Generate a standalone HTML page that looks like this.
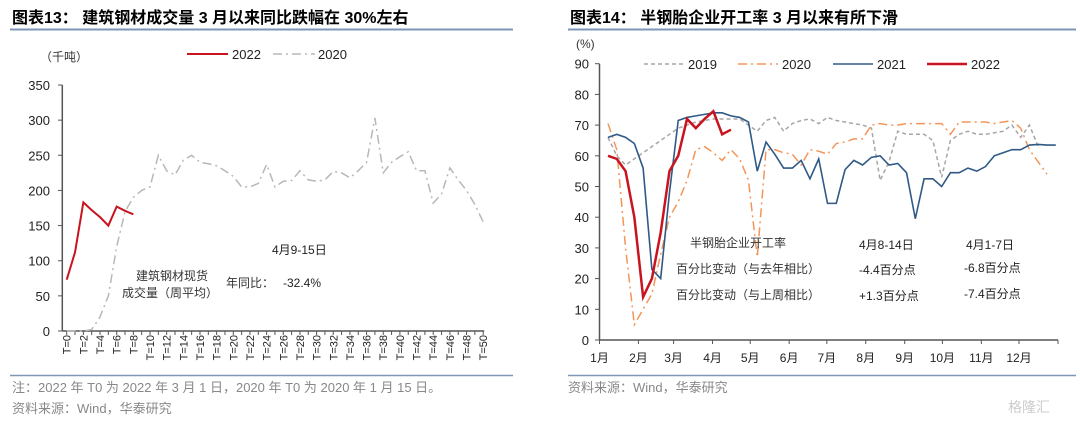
<!DOCTYPE html>
<html><head><meta charset="utf-8"><style>
html,body{margin:0;padding:0;background:#fff;}
body{width:1080px;height:421px;overflow:hidden;position:relative;font-family:"Liberation Sans","Noto Sans CJK SC",sans-serif;}
svg{position:absolute;left:0;top:0;}
</style></head><body>
<svg id="s" width="1080" height="421" viewBox="0 0 1080 421" font-family="Liberation Sans, Noto Sans CJK SC, sans-serif">
<g>
<text x="12" y="23" font-size="16" font-weight="bold" fill="#000">图表13：  建筑钢材成交量 3 月以来同比跌幅在 30%左右</text>
<line x1="10" y1="29.5" x2="513" y2="29.5" stroke="#7f97b7" stroke-width="2"/>
</g>
<g>
<text x="570" y="23" font-size="16" font-weight="bold" fill="#000">图表14：  半钢胎企业开工率 3 月以来有所下滑</text>
<line x1="568" y1="29.5" x2="1076" y2="29.5" stroke="#7f97b7" stroke-width="2"/>
</g>
<line x1="10" y1="375.5" x2="513" y2="375.5" stroke="#7f97b7" stroke-width="1.5"/>
<line x1="568" y1="375.5" x2="1076" y2="375.5" stroke="#7f97b7" stroke-width="1.5"/>
<text x="12" y="392" font-size="13" fill="#888">注：2022 年 T0 为 2022 年 3 月 1 日，2020 年 T0 为 2020 年 1 月 15 日。</text>
<text x="12" y="413" font-size="13" fill="#888">资料来源：Wind，华泰研究</text>
<text x="568" y="392" font-size="13" fill="#888">资料来源：Wind，华泰研究</text>
<text x="1008" y="412" font-size="14" fill="#ccc">格隆汇</text>
<g id="L"></g>
<g id="R"></g>
</svg>
<script>
// ---- left chart data ----
const lTicks = [0,50,100,150,200,250,300,350];
const lSeries2022 = [73,112,183,172,162,150,177,171,166];
const lSeries2020 = [0,0,0,2,20,50,120,170,190,200,205,250,228,222,243,250,240,238,235,228,220,205,205,210,237,205,213,214,228,215,213,215,227,225,218,228,240,303,225,240,248,255,228,228,182,195,232,215,200,180,155];
// ---- right chart data ----
const rTicks = [0,10,20,30,40,50,60,70,80,90];
const rMonths = ['1月','2月','3月','4月','5月','6月','7月','8月','9月','10月','11月','12月'];
const rMonthDays = [0,31,59,90,120,151,181,212,243,273,304,334];
const r2019 = [66,60,57,59,61,63,65,67,69,70,71,71.5,72,72,72,72,70,68,71.5,72.5,68,70.5,71.5,72,70.5,72.5,71.5,71,70.5,70,69,52,58,68,67,67,67,65,53,65,67,68,67,67,67.5,68,70,66,70,63];
const r2020 = [70.5,62,30,5,10,15,28,40,45,52,62,63,61,58.5,62,59,52,27,62,62,61,60.5,57,62,61.5,60.5,64,64.5,65.5,65.5,70,70.5,70,70,70.5,70.5,70.5,70.5,70.5,67,71,71,71,71,70.5,71,71.5,69,62,58,54];
const r2021 = [66,67,66,64,56,23,20,48,71.5,72.5,73,73.5,74,74,73,72.5,71,55,64.5,60.5,56,56,58.5,52.5,59,44.5,44.5,55.5,58.5,57,59.5,60,57,57.5,54.5,39.5,52.5,52.5,50,54.5,54.5,56,55,56.5,60,61,62,62,63.5,63.7,63.5,63.5];
const r2022 = [60,59,55,40,14,20,35,55,60,72,69,72,74.5,67,68.5];

const NS='http://www.w3.org/2000/svg';
function mk(parent,tag,attrs,text){const e=document.createElementNS(NS,tag);for(const k in attrs)e.setAttribute(k,attrs[k]);if(text!==undefined)e.textContent=text;parent.appendChild(e);return e;}

// left axes
const L=document.getElementById('L');
const lx=t=>66.7+t*8.33;
const ly=v=>331-v*(246/350);
mk(L,'line',{x1:62.3,y1:85,x2:62.3,y2:331,stroke:'#555','stroke-width':1.5});
for(const v of lTicks){
 mk(L,'line',{x1:58,y1:ly(v),x2:62.3,y2:ly(v),stroke:'#555'});
 const t=mk(L,'text',{x:50,y:ly(v)+5,'font-size':13,'text-anchor':'end',fill:'#222'},v);
 
 
}
mk(L,'line',{x1:62.3,y1:331,x2:lx(50)+1,y2:331,stroke:'#555','stroke-width':1.5});
for(let i=0;i<=50;i++){
 mk(L,'line',{x1:lx(i),y1:331,x2:lx(i),y2:335,stroke:'#555'});
 if(i%2===0){
  const t=mk(L,'text',{x:0,y:0,'font-size':11,fill:'#222',transform:`translate(${lx(i)+4},${335}) rotate(-90)`,'text-anchor':'end'},'T='+i);
  
  
 }
}
let p=mk(L,'polyline',{points:lSeries2020.map((v,i)=>lx(i)+','+ly(v)).join(' '),fill:'none',stroke:'#b8b8b8','stroke-width':1.5,'stroke-dasharray':'9,4,2,4'});


p=mk(L,'polyline',{points:lSeries2022.map((v,i)=>lx(i)+','+ly(v)).join(' '),fill:'none',stroke:'#c8141e','stroke-width':2});


// left legend & annotations
mk(L,'text',{x:40,y:61,'font-size':12,fill:'#333'},'（千吨）');
mk(L,'line',{x1:187,y1:54,x2:228,y2:54,stroke:'#c8141e','stroke-width':2});
mk(L,'text',{x:232,y:59,'font-size':13,fill:'#222'},'2022');
mk(L,'line',{x1:273,y1:54,x2:315,y2:54,stroke:'#b8b8b8','stroke-width':1.5,'stroke-dasharray':'9,4,2,4'});
mk(L,'text',{x:318,y:59,'font-size':13,fill:'#222'},'2020');
mk(L,'text',{x:272,y:254,'font-size':12,fill:'#222'},'4月9-15日');
mk(L,'text',{x:136,y:280,'font-size':12,fill:'#333'},'建筑钢材现货');
mk(L,'text',{x:122,y:297,'font-size':12,fill:'#333'},'成交量（周平均）');
mk(L,'text',{x:226,y:287,'font-size':12,fill:'#333'},'年同比：');
mk(L,'text',{x:283,y:287,'font-size':12,fill:'#222'},'-32.4%');

// right axes
const R=document.getElementById('R');
const rx=w=>608+w*8.78;
const rxd=d=>599.5+d*1.256;
const ry=v=>340-v*(276.3/90);
mk(R,'line',{x1:599.5,y1:ry(90),x2:599.5,y2:340,stroke:'#555','stroke-width':1.5});
for(const v of rTicks){
 mk(R,'line',{x1:595,y1:ry(v),x2:599.5,y2:ry(v),stroke:'#555'});
 const t=mk(R,'text',{x:589,y:ry(v)+5,'font-size':13,'text-anchor':'end',fill:'#222'},v);
 
 
}
mk(R,'line',{x1:599.5,y1:340,x2:1058,y2:340,stroke:'#555','stroke-width':1.5});
rMonths.forEach((m,i)=>{
 const x=rxd(rMonthDays[i]);
 mk(R,'line',{x1:x,y1:340,x2:x,y2:344,stroke:'#555'});
 const t=mk(R,'text',{x:x,y:362,'font-size':12,'text-anchor':'middle',fill:'#222'},m);
 
 
});
mk(R,'line',{x1:1058,y1:340,x2:1058,y2:344,stroke:'#555'});
function rline(arr,color,w,dash,name){
 const a={points:arr.map((v,i)=>rx(i)+','+ry(v)).join(' '),fill:'none',stroke:color,'stroke-width':w};
 if(dash)a['stroke-dasharray']=dash;
 const e=mk(R,'polyline',a);
 
 
}
rline(r2019,'#a6a6a6',1.5,'4,3','line-2019');
rline(r2020,'#f4955a',1.5,'9,4,2,4','line-2020-right');
rline(r2021,'#2f5a86',1.6,null,'line-2021');
rline(r2022,'#c8141e',2.5,null,'line-2022-right');
mk(R,'text',{x:576,y:48,'font-size':12,fill:'#333'},'(%)');
const leg=[[644,'#a6a6a6','4,3',1.5,'2019'],[738,'#f4955a','9,4,2,4',1.5,'2020'],[833,'#2f5a86',null,1.6,'2021'],[927,'#c8141e',null,2.5,'2022']];
for(const l of leg){
 const a={x1:l[0],y1:64,x2:l[0]+40,y2:64,stroke:l[1],'stroke-width':l[3]};
 if(l[2])a['stroke-dasharray']=l[2];
 mk(R,'line',a);
 mk(R,'text',{x:l[0]+44,y:69,'font-size':13,fill:'#222'},l[4]);
}
mk(R,'text',{x:690,y:247,'font-size':12,fill:'#333'},'半钢胎企业开工率');
mk(R,'text',{x:859,y:249,'font-size':12,fill:'#222'},'4月8-14日');
mk(R,'text',{x:966,y:249,'font-size':12,fill:'#222'},'4月1-7日');
mk(R,'text',{x:676,y:273,'font-size':12,fill:'#333'},'百分比变动（与去年相比）');
mk(R,'text',{x:859,y:274,'font-size':12,fill:'#222'},'-4.4百分点');
mk(R,'text',{x:964,y:272,'font-size':12,fill:'#222'},'-6.8百分点');
mk(R,'text',{x:676,y:299,'font-size':12,fill:'#333'},'百分比变动（与上周相比）');
mk(R,'text',{x:859,y:300,'font-size':12,fill:'#222'},'+1.3百分点');
mk(R,'text',{x:964,y:298,'font-size':12,fill:'#222'},'-7.4百分点');
</script>
</body></html>
